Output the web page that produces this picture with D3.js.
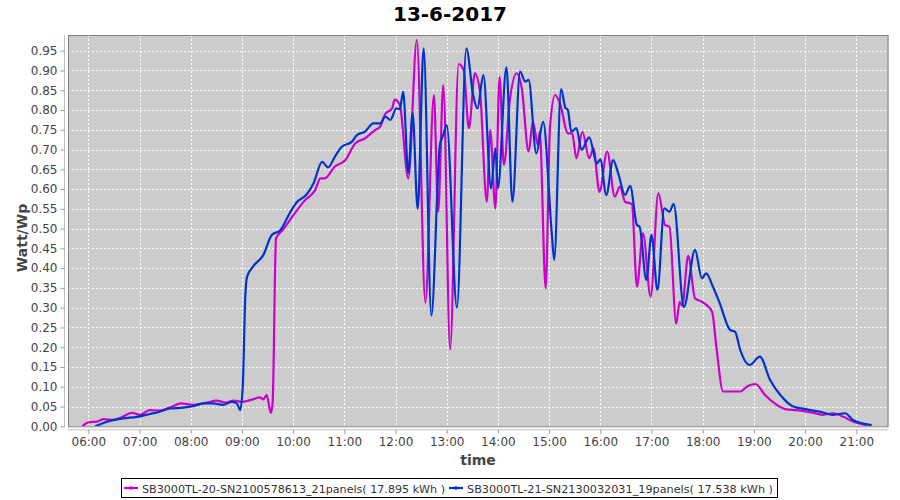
<!DOCTYPE html>
<html><head><meta charset="utf-8">
<script src="https://cdn.jsdelivr.net/npm/d3@7"></script>
<style>
body{margin:0;background:#fff;}
text{font-family:"DejaVu Sans",sans-serif;}
</style></head>
<body><svg id="chart" width="900" height="500"></svg>
<script>
const title = "13-6-2017";
const yTicks = [0,0.05,0.10,0.15,0.20,0.25,0.30,0.35,0.40,0.45,0.50,0.55,0.60,0.65,0.70,0.75,0.80,0.85,0.90,0.95];
const xTicks = ["06:00","07:00","08:00","09:00","10:00","11:00","12:00","13:00","14:00","15:00","16:00","17:00","18:00","19:00","20:00","21:00"];
const seriesNames = ["SB3000TL-20-SN2100578613_21panels( 17.895 kWh )","SB3000TL-21-SN2130032031_19panels( 17.538 kWh )"];
const seriesColors = ["#cc00cc","#0033cc"];

const magentaTimes = ["05:53","06:00","06:10","06:18","06:29","06:39","06:51","07:01","07:12","07:24","07:36","07:49","08:03","08:19","08:30","08:42","08:50","09:00","09:13","09:21","09:25","09:29","09:34","09:36","09:40","09:48","10:02","10:14","10:26","10:32","10:37","10:49","11:01","11:13","11:24","11:36","11:42","11:48","11:56","11:59","12:05","12:15","12:25","12:35","12:45","12:50","12:56","13:04","13:14","13:20","13:26","13:33","13:39","13:47","13:51","13:57","14:02","14:07","14:14","14:22","14:28","14:36","14:41","14:47","14:49","14:56","15:01","15:07","15:13","15:22","15:27","15:32","15:39","15:47","15:52","15:59","16:08","16:17","16:23","16:29","16:37","16:43","16:50","16:59","17:08","17:16","17:21","17:29","17:33","17:36","17:43","17:51","17:59","18:11","18:16","18:24","18:44","18:53","19:02","19:13","19:27","19:38","19:50","20:10","20:21","20:33","20:45","20:56","21:12"];
const magentaValues = [0.000,0.010,0.012,0.018,0.016,0.023,0.034,0.029,0.041,0.040,0.048,0.058,0.054,0.060,0.065,0.060,0.065,0.062,0.068,0.073,0.068,0.079,0.034,0.060,0.475,0.497,0.539,0.572,0.598,0.627,0.627,0.657,0.673,0.716,0.728,0.749,0.758,0.790,0.804,0.826,0.813,0.627,0.977,0.313,0.838,0.543,0.863,0.195,0.916,0.900,0.754,0.893,0.846,0.568,0.749,0.551,0.884,0.661,0.825,0.893,0.855,0.695,0.770,0.711,0.745,0.349,0.754,0.838,0.815,0.741,0.741,0.678,0.745,0.678,0.703,0.593,0.695,0.581,0.606,0.568,0.562,0.353,0.488,0.328,0.589,0.509,0.505,0.260,0.315,0.305,0.431,0.324,0.315,0.290,0.201,0.088,0.088,0.102,0.107,0.079,0.054,0.043,0.041,0.034,0.029,0.033,0.024,0.012,0.003];

const blueTimes = ["06:08","06:23","06:41","06:57","07:08","07:24","07:36","07:51","08:03","08:15","08:26","08:38","08:48","08:54","08:58","09:01","09:04","09:06","09:13","09:25","09:35","09:45","09:56","10:04","10:16","10:24","10:34","10:41","10:49","10:57","11:09","11:15","11:24","11:34","11:42","11:48","11:54","12:01","12:05","12:09","12:15","12:20","12:26","12:33","12:42","12:52","12:56","13:00","13:12","13:23","13:31","13:36","13:43","13:52","13:57","14:00","14:10","14:17","14:26","14:32","14:36","14:45","14:53","15:03","15:06","15:14","15:19","15:22","15:26","15:32","15:38","15:47","15:56","16:00","16:07","16:15","16:21","16:29","16:35","16:43","16:46","16:54","17:00","17:07","17:15","17:21","17:26","17:38","17:51","17:59","18:04","18:12","18:20","18:32","18:38","18:44","18:55","19:07","19:19","19:31","19:46","20:02","20:17","20:33","20:47","20:56","21:18"];
const blueValues = [0.000,0.012,0.020,0.024,0.029,0.037,0.045,0.047,0.051,0.058,0.058,0.054,0.062,0.058,0.041,0.100,0.330,0.378,0.404,0.433,0.484,0.496,0.539,0.566,0.587,0.615,0.669,0.655,0.682,0.707,0.720,0.737,0.745,0.766,0.766,0.783,0.775,0.804,0.802,0.846,0.640,0.792,0.550,0.956,0.280,0.711,0.737,0.762,0.300,0.956,0.838,0.804,0.888,0.602,0.703,0.602,0.908,0.568,0.897,0.872,0.876,0.690,0.770,0.492,0.421,0.853,0.806,0.800,0.745,0.754,0.699,0.731,0.665,0.675,0.585,0.673,0.640,0.585,0.608,0.509,0.505,0.370,0.484,0.345,0.551,0.543,0.562,0.302,0.446,0.374,0.387,0.353,0.311,0.244,0.239,0.193,0.155,0.176,0.117,0.079,0.050,0.043,0.037,0.029,0.033,0.016,0.003];

const svg = d3.select("#chart");
const W = 900, H = 500;
const plot = {left:68, right:888.5, top:35, bottom:426.3};
const parse = d3.timeParse("%Y-%m-%d %H:%M");
const tp = s => parse("2017-06-13 " + s);
const base = tp("06:00");
const x = d3.scaleTime()
  .domain([new Date(+base - 23.8*60000), new Date(+base + 15.629*3600000)])
  .range([plot.left, plot.right]);
const y = d3.scaleLinear().domain([0, 0.9897]).range([plot.bottom, plot.top]);

svg.append("rect").attr("width",W).attr("height",H).attr("fill","#fff");
// title
svg.append("text").attr("x",450).attr("y",21).attr("text-anchor","middle")
  .attr("font-size",20).attr("font-weight","bold").attr("fill","#000").text(title);
// plot background
svg.append("rect").attr("x",plot.left).attr("y",plot.top)
  .attr("width",plot.right-plot.left).attr("height",plot.bottom-plot.top)
  .attr("fill","#cccccc");
// grid
const g = svg.append("g");
g.selectAll(".hg").data(yTicks).join("line")
  .attr("x1",plot.left).attr("x2",plot.right)
  .attr("y1",d=>Math.round(y(d))+0.5).attr("y2",d=>Math.round(y(d))+0.5)
  .attr("stroke","#ffffff").attr("stroke-width",1).attr("stroke-dasharray","2,2");
g.selectAll(".vg").data(xTicks).join("line")
  .attr("x1",d=>Math.round(x(tp(d)))+0.5).attr("x2",d=>Math.round(x(tp(d)))+0.5)
  .attr("y1",plot.top).attr("y2",plot.bottom)
  .attr("stroke","#ffffff").attr("stroke-width",1).attr("stroke-dasharray","2,2");

// lines
const line = d3.line().x(d=>x(d[0])).y(d=>y(d[1])).curve(d3.curveMonotoneX);
svg.append("clipPath").attr("id","clip").append("rect")
  .attr("x",plot.left).attr("y",plot.top).attr("width",plot.right-plot.left).attr("height",plot.bottom-plot.top);
const mData = magentaTimes.map((t,i)=>[tp(t), magentaValues[i]]);
const bData = blueTimes.map((t,i)=>[tp(t), blueValues[i]]);
svg.append("path").datum(mData).attr("d",line).attr("fill","none")
  .attr("stroke",seriesColors[0]).attr("stroke-width",2.2).attr("clip-path","url(#clip)");
svg.append("path").datum(bData).attr("d",line).attr("fill","none")
  .attr("stroke",seriesColors[1]).attr("stroke-width",2.2).attr("clip-path","url(#clip)");

// plot border
svg.append("rect").attr("x",plot.left+0.5).attr("y",plot.top+0.5)
  .attr("width",plot.right-plot.left-1).attr("height",plot.bottom-plot.top)
  .attr("fill","none").attr("stroke","#808080").attr("stroke-width",1);

// y axis
const yAxis = d3.axisLeft(y).tickValues(yTicks).tickFormat(d3.format(".2f")).tickSize(4).tickPadding(3);
const ya = svg.append("g").attr("transform",`translate(${plot.left-3.5},0)`).call(yAxis);
ya.select(".domain").attr("stroke","#c0c0c0").attr("d",`M-0,${plot.top}V${plot.bottom+1}`);
ya.selectAll(".tick line").attr("stroke","#a0a0a0");
ya.selectAll(".tick text").attr("font-size",12).attr("fill","#444").attr("font-family","DejaVu Sans");

// x axis
const xAxis = d3.axisBottom(x).tickValues(xTicks.map(tp)).tickFormat(d3.timeFormat("%H:%M")).tickSize(4).tickPadding(4);
const xa = svg.append("g").attr("transform",`translate(0,${plot.bottom+3.5})`).call(xAxis);
xa.select(".domain").attr("stroke","#c0c0c0").attr("d",`M${plot.left},0H${plot.right}`);
xa.selectAll(".tick line").attr("stroke","#a0a0a0");
xa.selectAll(".tick text").attr("font-size",12).attr("fill","#444").attr("font-family","DejaVu Sans");

// axis labels
svg.append("text").attr("x",478).attr("y",465).attr("text-anchor","middle")
  .attr("font-size",14).attr("font-weight","bold").attr("fill","#444").text("time");
svg.append("text").attr("transform","translate(27,238) rotate(-90)").attr("text-anchor","middle")
  .attr("font-size",14).attr("font-weight","bold").attr("fill","#444").text("Watt/Wp");

// legend
const leg = svg.append("g");
leg.append("rect").attr("x",121.5).attr("y",478.5).attr("width",656).attr("height",19)
  .attr("fill","#fff").attr("stroke","#000").attr("stroke-width",1);
const itemX = [124, 449];
const textLen = [303, 306];
seriesNames.forEach((n,i)=>{
  leg.append("line").attr("x1",itemX[i]).attr("x2",itemX[i]+14).attr("y1",488).attr("y2",488)
    .attr("stroke",seriesColors[i]).attr("stroke-width",2.2);
  leg.append("rect").attr("x",itemX[i]+5.5).attr("y",486.5).attr("width",3).attr("height",3).attr("fill",seriesColors[i]);
  leg.append("text").attr("x",itemX[i]+18).attr("y",492.5).attr("font-size",11)
    .attr("textLength",textLen[i]).attr("lengthAdjust","spacingAndGlyphs")
    .attr("fill","#333").text(n);
});
</script></body></html>
